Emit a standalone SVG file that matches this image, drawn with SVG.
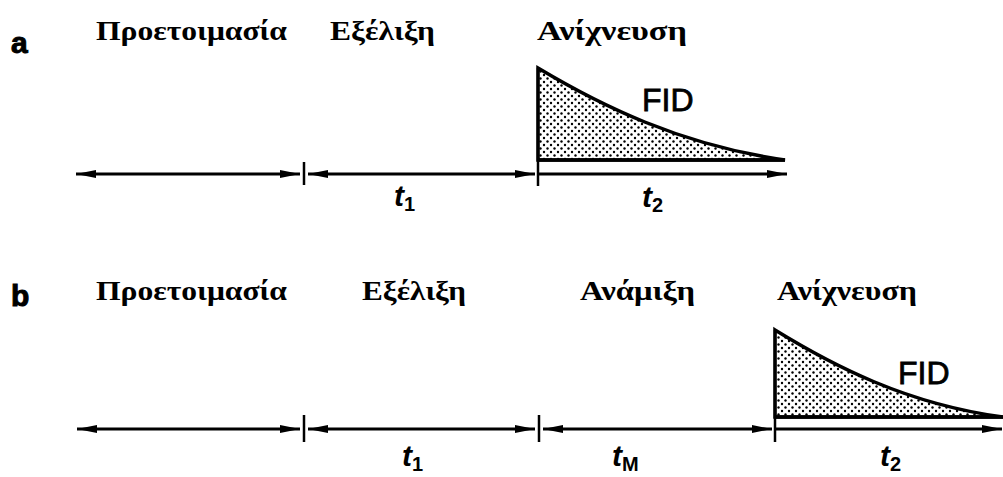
<svg xmlns="http://www.w3.org/2000/svg" width="1003" height="477" viewBox="0 0 1003 477">
<style>
.hd{font-family:"Liberation Serif","DejaVu Serif",serif;font-weight:bold;font-size:28px;fill:#000}
.lbl{font-family:"Liberation Sans","DejaVu Sans",sans-serif;font-weight:bold;font-size:30px;fill:#000;stroke:#000;stroke-width:1}
.fid{font-family:"Liberation Sans","DejaVu Sans",sans-serif;font-size:32px;fill:#000;stroke:#000;stroke-width:0.8}
.t{font-family:"Liberation Sans","DejaVu Sans",sans-serif;font-style:italic;font-weight:bold;font-size:30px;fill:#000}
.sub{font-style:normal;font-size:20px}
.ax{stroke:#000;stroke-width:3;fill:none}
.tick{stroke:#000;stroke-width:2.5}
.curve{stroke:#000;stroke-width:3.5;fill:url(#dots)}
.base{stroke:#000;stroke-width:3.5}
</style>
<defs>
<marker id="ah" viewBox="0 0 20 10" refX="20" refY="5" markerWidth="20" markerHeight="10" markerUnits="userSpaceOnUse" orient="auto-start-reverse">
<path d="M0,1 L20,5 L0,9 Z" fill="#000"/>
</marker>
<pattern id="dots" width="7" height="7" patternUnits="userSpaceOnUse">
<rect width="7" height="7" fill="#fff"/>
<circle cx="1.5" cy="1.5" r="1.2" fill="#000"/>
<circle cx="5" cy="5" r="1.2" fill="#000"/>
</pattern>
</defs>
<rect width="1003" height="477" fill="#fff"/>

<g id="panel-a">
<text class="lbl" x="11" y="53">a</text>
<g id="a-prep"><text class="hd" x="96" y="40" textLength="191" lengthAdjust="spacingAndGlyphs">Προετοιμασία</text></g>
<g id="a-evol"><text class="hd" x="330" y="40" textLength="105" lengthAdjust="spacingAndGlyphs">Εξέλιξη</text></g>
<g id="a-det"><text class="hd" x="537" y="40" textLength="150" lengthAdjust="spacingAndGlyphs">Ανίχνευση</text></g>
<g id="a-fid">
<path class="curve" d="M538,68 C600,105 680,145 785,160 L538,160 Z"/>
<line class="base" x1="538" y1="160" x2="785" y2="160"/>
<text class="fid" x="642" y="111">FID</text>
</g>
<text class="t" x="394" y="206">t<tspan class="sub" dy="5">1</tspan></text>
<text class="t" x="642" y="207">t<tspan class="sub" dy="5">2</tspan></text>
</g>

<g id="panel-b">
<text class="lbl" x="11" y="306">b</text>
<g id="b-prep"><text class="hd" x="96" y="300" textLength="191" lengthAdjust="spacingAndGlyphs">Προετοιμασία</text></g>
<g id="b-evol"><text class="hd" x="362" y="300" textLength="104" lengthAdjust="spacingAndGlyphs">Εξέλιξη</text></g>
<g id="b-mix"><text class="hd" x="580" y="300" textLength="115" lengthAdjust="spacingAndGlyphs">Ανάμιξη</text></g>
<g id="b-det"><text class="hd" x="777" y="300" textLength="140" lengthAdjust="spacingAndGlyphs">Ανίχνευση</text></g>
<g id="b-fid">
<path class="curve" d="M775,330 C832,365 906,404 1003,417 L775,417 Z"/>
<line class="base" x1="775" y1="417" x2="1003" y2="417"/>
<text class="fid" x="898" y="384">FID</text>
</g>
<text class="t" x="402" y="466">t<tspan class="sub" dy="5">1</tspan></text>
<text class="t" x="612" y="466">t<tspan class="sub" dy="5">M</tspan></text>
<text class="t" x="880" y="466">t<tspan class="sub" dy="5">2</tspan></text>
</g>

<g id="connectors">
<line class="ax" x1="76" y1="174" x2="300" y2="174" marker-start="url(#ah)" marker-end="url(#ah)"/>
<line class="tick" x1="304" y1="162" x2="304" y2="185"/>
<line class="ax" x1="308" y1="174" x2="535" y2="174" marker-start="url(#ah)" marker-end="url(#ah)"/>
<line class="tick" x1="538" y1="68" x2="538" y2="186"/>
<line class="ax" x1="538" y1="174" x2="787" y2="174" marker-end="url(#ah)"/>

<line class="ax" x1="77" y1="429" x2="300" y2="429" marker-start="url(#ah)" marker-end="url(#ah)"/>
<line class="tick" x1="304" y1="415" x2="304" y2="442"/>
<line class="ax" x1="308" y1="429" x2="535" y2="429" marker-start="url(#ah)" marker-end="url(#ah)"/>
<line class="tick" x1="539" y1="415" x2="539" y2="442"/>
<line class="ax" x1="543" y1="429" x2="772" y2="429" marker-start="url(#ah)" marker-end="url(#ah)"/>
<line class="tick" x1="775" y1="330" x2="775" y2="442"/>
<line class="ax" x1="775" y1="429" x2="1002" y2="429" marker-end="url(#ah)"/>
</g>
</svg>
